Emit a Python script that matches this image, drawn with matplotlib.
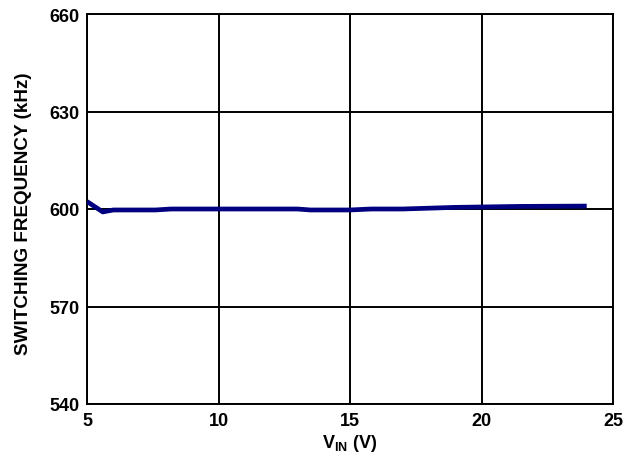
import matplotlib
matplotlib.use("Agg")
import matplotlib.pyplot as plt

plt.rcParams['font.family'] = ['Liberation Sans', 'DejaVu Sans']
plt.rcParams['font.weight'] = 'bold'
plt.rcParams['mathtext.fontset'] = 'custom'
plt.rcParams['mathtext.rm'] = 'Liberation Sans:bold'
plt.rcParams['mathtext.bf'] = 'Liberation Sans:bold'
plt.rcParams['mathtext.it'] = 'Liberation Sans:bold'

vin = [5.0, 5.6, 6.0, 7.0, 7.6, 8.2, 10.0, 12.0, 13.0, 13.5, 15.0, 15.8, 17.0, 19.0, 21.5, 24.0]
freq = [602.3, 599.1, 599.7, 599.7, 599.7, 600.0, 600.0, 600.0, 600.0, 599.7, 599.7, 600.0, 600.0, 600.5, 600.8, 600.9]

x_ticks = [5, 10, 15, 20, 25]
y_ticks = [540, 570, 600, 630, 660]

fig = plt.figure(figsize=(6.41, 4.60), dpi=100)
ax = fig.add_axes([87/641, 55/460, 526/641, 390/460])

ax.plot(vin, freq, color='#000080', linewidth=3.4, solid_capstyle='butt', zorder=3)

ax.set_xlim(5, 25)
ax.set_ylim(540, 660)
ax.set_xticks(x_ticks)
ax.set_yticks(y_ticks)
ax.set_xticklabels([str(t) for t in x_ticks], fontsize=13, fontweight='bold')
ax.set_yticklabels([str(t) for t in y_ticks], fontsize=13, fontweight='bold')
ax.tick_params(axis='x', length=0, pad=6)
ax.tick_params(axis='y', length=0, pad=5.5)
ax.grid(True, color='black', linewidth=1.4)
for s in ax.spines.values():
    s.set_linewidth(1.4)
    s.set_color('black')

ax.set_xlabel(r'V$_{\mathregular{IN}}$ (V)', fontsize=13, fontweight='bold', labelpad=2)
ax.set_ylabel('SWITCHING FREQUENCY (kHz)', fontsize=13.6, fontweight='bold')
ax.yaxis.set_label_coords(-0.105, 0.49)

fig.savefig('out.png', dpi=100)
